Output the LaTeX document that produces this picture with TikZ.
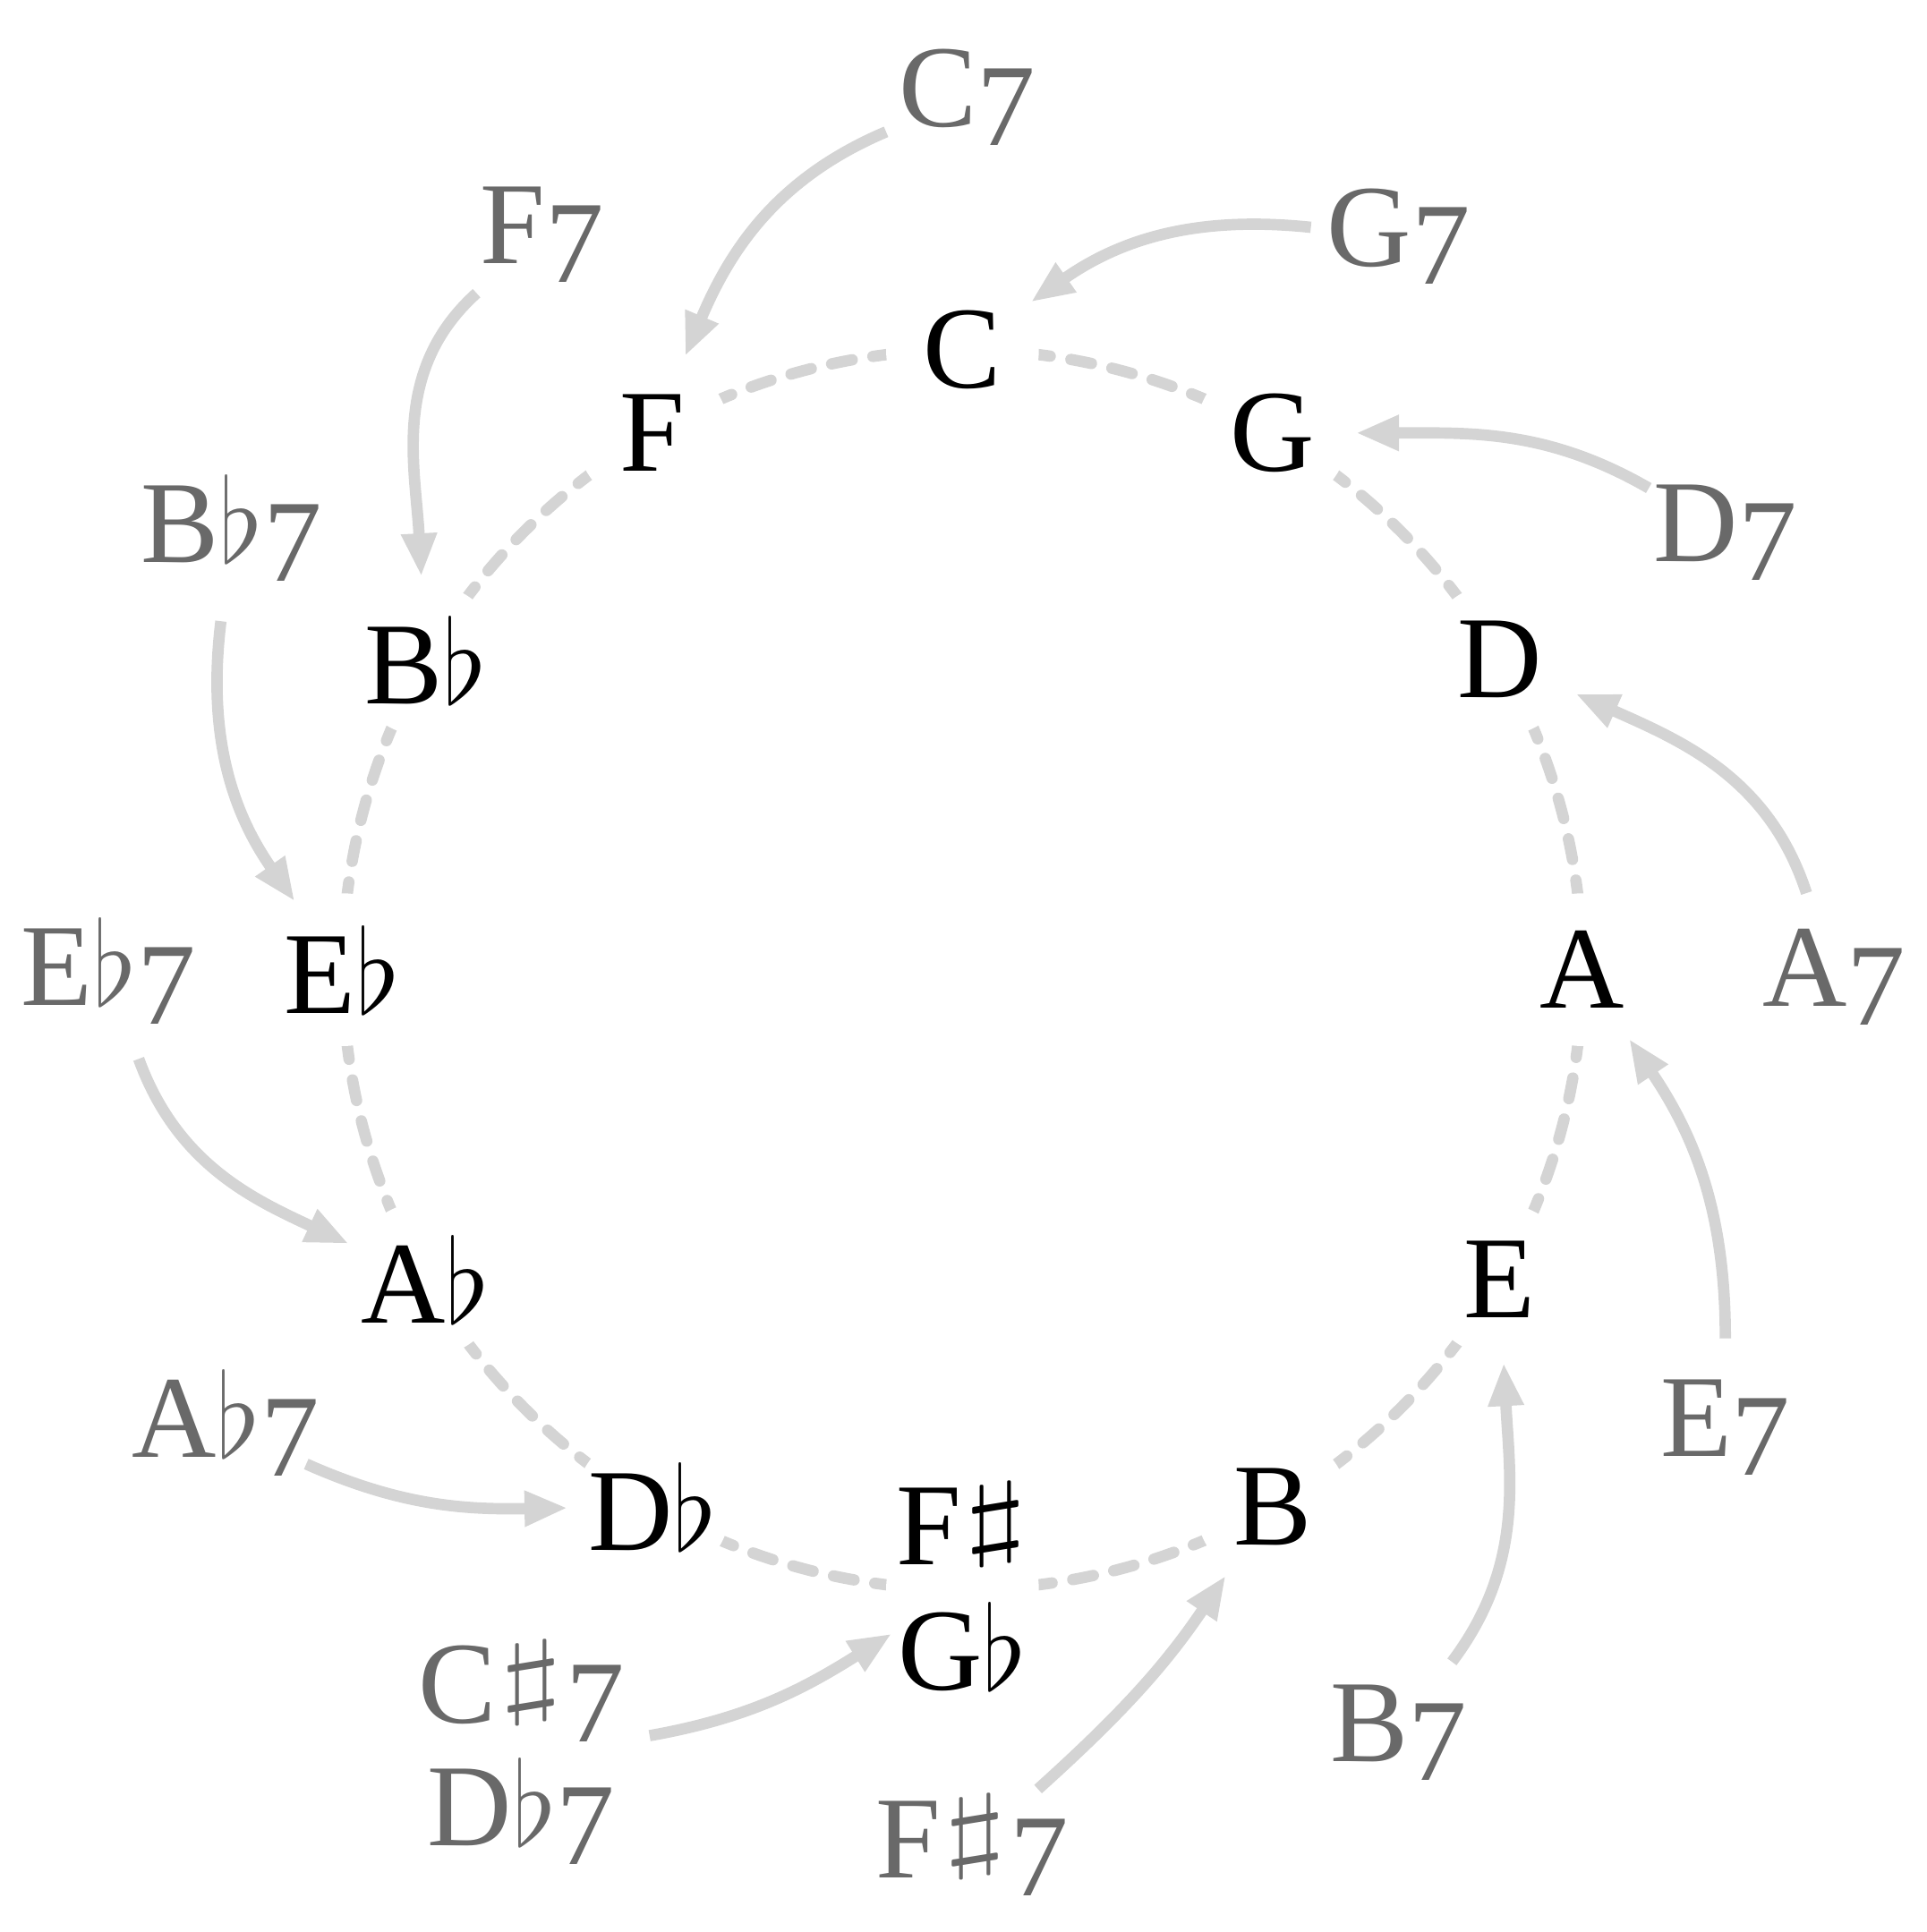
\RequirePackage{fix-cm}
\documentclass[tikz,border=0pt]{standalone}
\usepackage{fontspec}
\setmainfont{Liberation Serif}
\usepackage{graphicx}
\usetikzlibrary{arrows.meta,backgrounds}
\definecolor{domgray}{HTML}{696969}
\definecolor{linegray}{HTML}{D4D4D4}
\newcommand\flt{$\flat$}
\newcommand\shp{\hspace{0.02em}\raisebox{0.15em}{\scalebox{1.45}[0.8]{$\sharp$}}\hspace{0.02em}}
\newcommand\sev{\raisebox{-0.16em}{7}}
\newcommand\lbl[2][-0.25em]{\makebox[0pt]{\smash{\raisebox{#1}{#2}}}}
\begin{document}
\begin{tikzpicture}[
  note/.style={circle, fill=white, inner sep=0pt, minimum size=1.24cm, font=\fontsize{27}{28.7}\selectfont},
  domlabel/.style={circle, text=domgray, inner sep=0pt, minimum size=1.42cm, font=\fontsize{27}{27}\selectfont},
  ring/.style={draw=linegray, line width=0.092cm, line cap=round, dash pattern=on 0.17cm off 0.17cm, dash phase=0.136cm},
  arr/.style={draw=linegray, line width=0.092cm, -{Triangle[length=0.35cm,width=0.27cm]}, shorten >=0.05cm}
]
\useasboundingbox (-7.81,-7.81) rectangle (7.82,7.87);
% inner ring
\node[note] (C) at (90:5.03) {C};
\node[note] (G) at (60:5.03) {G};
\node[note] (D) at (30:5.03) {D};
\node[note] (A) at (0:5.03) {A};
\node[note] (E) at (-30:5.03) {E};
\node[note] (B) at (-60:5.03) {B};
\node[note] (Gb) at (-90:5.03) {\smash{\raisebox{-0.815cm}{\begin{tabular}[b]{@{}c@{}}F\shp\\G\flt\end{tabular}}}};
\node[note] (Db) at (-120:5.03) {D\flt};
\node[note] (Ab) at (-150:5.03) {A\flt};
\node[note] (Eb) at (180:5.03) {E\flt};
\node[note] (Bb) at (150:5.03) {B\flt};
\node[note] (F) at (120:5.03) {F};
% outer ring
\node[domlabel] (C7) at (0.04,7.08) {\lbl{C\sev}};
\node[domlabel] (G7) at (3.54,5.95) {\lbl{G\sev}};
\node[domlabel] (D7) at (6.19,3.55) {\lbl{D\sev}};
\node[domlabel] (A7) at (7.07,-0.06) {\lbl{A\sev}};
\node[domlabel] (E7) at (6.19,-3.71) {\lbl{E\sev}};
\node[domlabel] (B7) at (3.54,-6.19) {\lbl{B\sev}};
\node[domlabel] (Fs7) at (0.08,-7.13) {\lbl{F\shp\sev}};
\node[domlabel, minimum size=2.1cm] (Cs7) at (-3.58,-6.40) {\lbl[-0.712cm]{\begin{tabular}[b]{@{}c@{}}C\shp\sev\\D\flt\sev\end{tabular}}};
\node[domlabel] (Ab7) at (-5.98,-3.72) {\lbl{A\flt\sev}};
\node[domlabel] (Eb7) at (-6.93,-0.05) {\lbl{E\flt\sev}};
\node[domlabel] (Bb7) at (-5.93,3.54) {\lbl{B\flt\sev}};
\node[domlabel] (F7) at (-3.41,5.97) {\lbl{F\sev}};
% dashed circle of fifths
\begin{scope}[on background layer]
\foreach \n/\a in {C/90,G/60,D/30,A/0,E/-30,B/-60,Gb/-90,Db/-120,Ab/-150,Eb/-180,Bb/-210,F/-240}
  \draw[ring] (\n.center) arc[start angle=\a, end angle=\a-30, radius=5.03];
\end{scope}
% resolutions
\draw[arr] (C7) to[out=203, in=67] (F);
\draw[arr] (G7) to[out=174, in=35] (C);
\draw[arr] (D7) to[out=150, in=0] (G);
\draw[arr] (A7) to[out=108, in=-24] (D);
\draw[arr] (E7) to[out=90, in=-56] (A);
\draw[arr] (B7) to[out=53, in=-87] (E);
\draw[arr] (Fs7) to[out=42, in=236] (B);
\draw[arr] (Cs7) to[out=10, in=212] (Gb);
\draw[arr] (Ab7) to[out=-24, in=181] (Db);
\draw[arr] (Eb7) to[out=-70, in=155] (Ab);
\draw[arr] (Bb7) to[out=-97, in=125] (Eb);
\draw[arr] (F7) to[out=222, in=93] (Bb);
\end{tikzpicture}
\end{document}
